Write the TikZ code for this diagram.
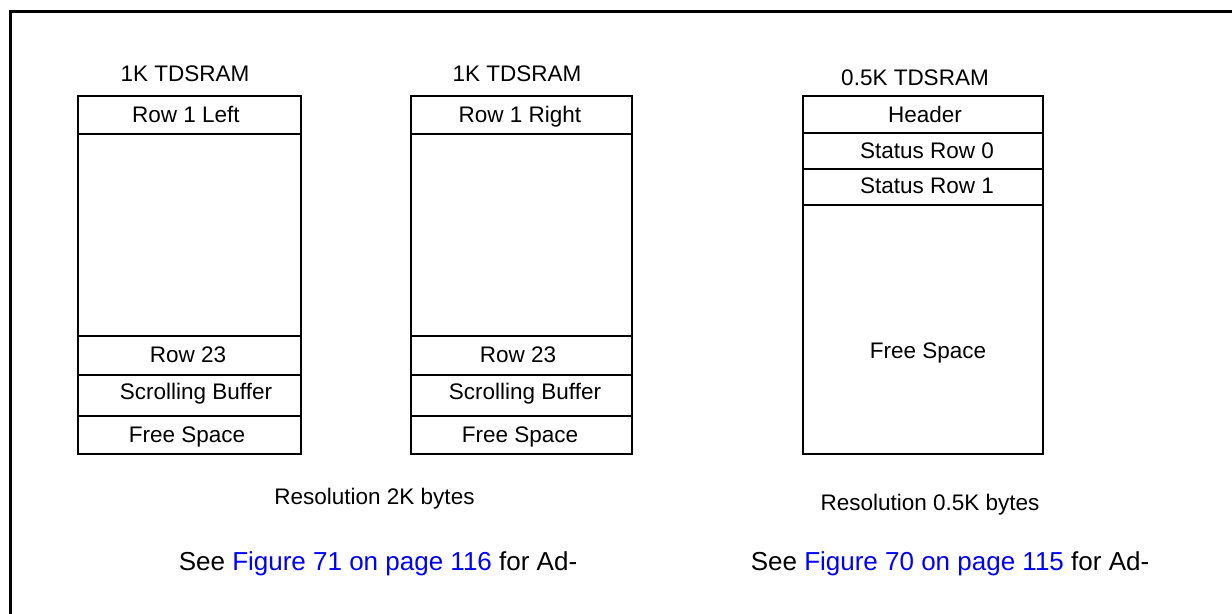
\documentclass[tikz,border=0pt]{standalone}
\usepackage{fontspec}
\setmainfont{Liberation Sans}
\usetikzlibrary{fit}
\definecolor{linkblue}{RGB}{0,0,255}
\begin{document}
\begin{tikzpicture}[x=0.5pt,y=-0.5pt,
  cell/.style={draw, line width=1.2pt, inner sep=0pt},
  frame/.style={line width=1.5pt},
  lbl/.style={font=\fontsize{11.25}{13}\selectfont, inner sep=0pt, anchor=base},
  note/.style={font=\fontsize{13}{15}\selectfont, inner sep=0pt, anchor=base}]
\useasboundingbox (0,0) rectangle (1232,614);
% outer frame (top and left sides only)
\coordinate (ftr) at (1232,12);
\coordinate (ftl) at (10,12);
\coordinate (fbl) at (10,614);
\draw[frame] (ftr) -- (ftl) -- (fbl);
% box 1
\node[cell, fit={(78,96) (301,134)}] (A1) {};
\node[cell, fit={(78,134) (301,336)}] (A2) {};
\node[cell, fit={(78,336) (301,375)}] (A3) {};
\node[cell, fit={(78,375) (301,416)}] (A4) {};
\node[cell, fit={(78,416) (301,454)}] (A5) {};
% box 2
\node[cell, fit={(411,96) (632,134)}] (B1) {};
\node[cell, fit={(411,134) (632,336)}] (B2) {};
\node[cell, fit={(411,336) (632,375)}] (B3) {};
\node[cell, fit={(411,375) (632,416)}] (B4) {};
\node[cell, fit={(411,416) (632,454)}] (B5) {};
% box 3
\node[cell, fit={(803,96) (1043,133)}] (C1) {};
\node[cell, fit={(803,133) (1043,169)}] (C2) {};
\node[cell, fit={(803,169) (1043,205)}] (C3) {};
\node[cell, fit={(803,205) (1043,454)}] (C4) {};
% titles
\node[lbl] (t1) at (185,82) {1K TDSRAM};
\node[lbl] (t2) at (517,82) {1K TDSRAM};
\node[lbl] (t3) at (915,86) {0.5K TDSRAM};
% box 1 labels
\node[lbl] (a1) at (186,123) {Row 1 Left};
\node[lbl] (a2) at (188,363) {Row 23};
\node[lbl] (a3) at (196,400) {Scrolling Buffer};
\node[lbl] (a4) at (187,443) {Free Space};
% box 2 labels
\node[lbl] (b1) at (520,123) {Row 1 Right};
\node[lbl] (b2) at (518,363) {Row 23};
\node[lbl] (b3) at (525,400) {Scrolling Buffer};
\node[lbl] (b4) at (520,443) {Free Space};
% box 3 labels
\node[lbl] (c1) at (925,123) {Header};
\node[lbl] (c2) at (927,159) {Status Row 0};
\node[lbl] (c3) at (927,194) {Status Row 1};
\node[lbl] (c4) at (928,359) {Free Space};
% resolutions
\node[lbl] (r1) at (374.5,505) {Resolution 2K bytes};
\node[lbl] (r2) at (930,510) {Resolution 0.5K bytes};
% references
\node[note] (s1) at (378,570) {See \textcolor{linkblue}{Figure 71 on page 116} for Ad-};
\node[note] (s2) at (950,570) {See \textcolor{linkblue}{Figure 70 on page 115} for Ad-};
\end{tikzpicture}
\end{document}
